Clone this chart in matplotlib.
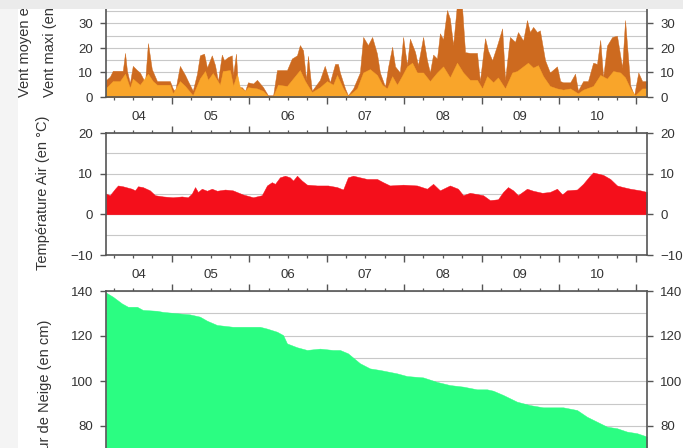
import numpy as np
import matplotlib
matplotlib.use("Agg")
from matplotlib import pyplot as plt
from matplotlib.patches import Rectangle
from matplotlib.ticker import MultipleLocator

plt.rcParams['font.family'] = ['Liberation Sans', 'DejaVu Sans']

# time axis: hours since day 04, 00:00
T_START, T_END = 3.6, 171.3
day_labels = ['04', '05', '06', '07', '08', '09', '10']

# wind (km/h): max and mean
wind_max_t = [3.6, 4.8, 5.7, 8.8, 9.5, 10.1, 11.0, 11.9, 13.2, 14.1,
              15.7, 16.6, 17.8, 19.4, 23.4, 24.3, 25.0, 26.5, 28.1, 29.0,
              30.5, 31.8, 32.7, 34.0, 34.9, 36.4, 37.4, 38.3, 39.5, 40.2,
              41.4, 42.6, 43.0, 43.9, 44.5, 45.7, 46.7, 47.6, 49.2, 50.4,
              52.3, 53.8, 55.4, 56.6, 59.7, 61.2, 62.8, 63.7, 64.7, 65.6,
              66.2, 67.4, 69.9, 71.4, 73.0, 74.6, 75.5, 76.1, 77.7, 78.6,
              80.2, 82.3, 83.3, 84.8, 86.1, 87.6, 88.5, 90.1, 91.0, 92.3,
              93.2, 94.7, 95.7, 96.9, 97.8, 99.4, 100.3, 101.9, 103.1, 104.0,
              105.0, 106.2, 107.1, 108.1, 109.3, 110.2, 111.2, 112.4, 113.9, 114.9,
              116.4, 118.6, 119.5, 121.1, 122.0, 123.3, 124.8, 126.4, 127.3, 128.8,
              130.4, 131.3, 132.9, 134.1, 135.0, 136.0, 137.2, 138.1, 139.7, 141.2,
              143.4, 144.4, 145.3, 147.5, 149.0, 149.9, 151.5, 153.0, 154.6, 155.8,
              156.8, 157.7, 158.9, 160.5, 162.0, 163.6, 164.5, 166.1, 167.3, 168.6,
              169.8, 171.3]
wind_max_v = [6.9, 8.3, 10.7, 10.7, 18, 10.7, 5.7, 12.7, 11, 10,
              6, 22, 11.4, 6.5, 6.5, 3.5, 2.3, 12.7, 9, 6.5,
              2.6, 9.5, 17, 17.7, 12, 17, 13, 6.5, 17.3, 15,
              16.3, 17, 9, 17.7, 4, 4, 2.5, 6, 5.5, 7,
              4, 0.7, 0.7, 11, 11, 15.7, 17, 21.2, 19, 7,
              16.8, 2.5, 7, 12.7, 6, 13.5, 13.5, 10, 3.5, 0.7,
              3.5, 10, 24.5, 21.2, 24.5, 17.7, 10, 4.2, 12, 20.5,
              12.5, 10, 24.5, 13, 23.8, 18.4, 13, 24.5, 15, 10,
              17.3, 15.7, 26, 23.5, 35.5, 32, 21.2, 38, 38, 18.3,
              18, 18, 6.5, 24, 19, 15, 21, 28, 7, 24.5,
              22.5, 26.5, 23, 31.4, 26.5, 28.6, 26.5, 27.2, 15, 10,
              12.5, 6.5, 6, 6, 9.5, 2.6, 6.5, 6.5, 14, 13.5,
              23.3, 8, 21, 24.5, 25, 12, 31.4, 4.8, 0.7, 10,
              6.5, 6.5]

wind_mean_t = [3.6, 5.7, 7.9, 9.5, 11.0, 11.9, 14.1, 16.6, 18.1, 19.4,
               23.4, 24.3, 26.5, 28.1, 30.5, 32.7, 34.3, 35.2, 36.7, 38.9,
               39.8, 42.0, 43.0, 44.2, 45.1, 46.7, 47.6, 50.4, 52.3, 53.8,
               55.4, 56.9, 59.7, 61.6, 63.7, 65.3, 67.4, 69.9, 72.1, 74.0,
               75.2, 77.1, 78.6, 81.4, 83.3, 85.4, 87.6, 89.2, 90.7, 92.3,
               93.8, 95.3, 96.9, 98.5, 100.0, 101.9, 104.0, 106.2, 108.1, 110.2,
               112.4, 114.3, 116.4, 118.6, 120.2, 121.7, 123.6, 125.1, 127.3, 129.5,
               131.0, 132.9, 134.4, 136.0, 137.5, 139.1, 141.2, 143.4, 145.3, 147.5,
               149.9, 151.5, 154.6, 156.8, 158.9, 160.8, 163.0, 164.5, 166.1, 167.6,
               169.8, 171.3]
wind_mean_v = [3.7, 6.5, 6.5, 9.5, 3.7, 7.5, 5, 9.5, 6.5, 5,
               5, 1.5, 6.5, 4.5, 0.7, 7.6, 10.6, 7, 9.8, 5,
               10.6, 11, 4.5, 9.5, 4, 2.5, 4, 3.5, 2.5, 0.4,
               0.4, 5, 4.5, 7.6, 11, 6.5, 2, 4, 6.5, 5,
               9, 3.5, 0.4, 3.5, 10, 11.4, 9, 5, 3.5, 8.5,
               5, 8.5, 12.5, 14, 10, 10, 6.5, 10, 12.5, 8,
               14, 10, 7, 7, 3.5, 8.5, 6, 8, 3.5, 10,
               10.6, 12.5, 14, 12, 13, 8.5, 4.5, 3.5, 3, 3.5,
               1.5, 3, 4.5, 9, 7.5, 10.6, 10, 8, 3.5, 0.7,
               3.5, 3.5]

# air temperature (deg C)
temp_t = [3.6, 4.8, 6.4, 7.3, 8.8, 11.6, 12.6, 13.5, 15.0, 17.2,
          18.8, 21.3, 24.3, 27.1, 29.0, 30.2, 31.2, 32.1, 33.3, 34.9,
          36.4, 38.0, 40.5, 42.9, 46.0, 49.2, 51.9, 53.5, 55.0, 56.0,
          57.5, 59.1, 60.6, 61.6, 62.8, 64.3, 65.9, 69.0, 72.4, 75.2,
          77.1, 78.6, 80.2, 82.3, 84.5, 87.6, 89.5, 91.6, 95.7, 100.0,
          103.1, 105.0, 107.1, 110.2, 112.7, 114.3, 116.4, 120.5, 122.6, 125.1,
          126.7, 128.2, 129.8, 131.3, 134.1, 136.0, 138.8, 141.2, 143.4, 145.0,
          146.5, 149.6, 151.5, 153.6, 154.6, 157.7, 159.9, 162.0, 163.9, 166.1,
          169.2, 171.3]
temp_v = [5.1, 4.7, 6.3, 7.1, 6.9, 6.3, 5.9, 6.9, 6.7, 5.9,
          4.7, 4.4, 4.2, 4.4, 4.2, 5.1, 6.7, 5.5, 6.3, 5.8,
          6.3, 5.8, 6.1, 5.9, 4.9, 4.2, 4.7, 7.1, 7.9, 7.5,
          9.1, 9.5, 9.1, 8.3, 9.5, 8.3, 7.3, 7.1, 7.1, 6.7,
          6.1, 9.1, 9.5, 9.1, 8.7, 8.7, 7.9, 7.1, 7.3, 7.1,
          6.3, 7.5, 5.9, 7.1, 6.3, 4.7, 5.3, 4.7, 3.5, 3.7,
          5.5, 6.7, 5.9, 4.7, 6.3, 5.8, 5.3, 5.5, 6.3, 4.9,
          5.9, 6.1, 7.5, 9.5, 10.3, 9.7, 8.7, 7.1, 6.7, 6.3,
          5.9, 5.5]

# snow depth (cm)
snow_t = [3.6, 5.7, 8.5, 10.4, 13.2, 15.0, 19.4, 21.3, 26.5, 29.6,
          32.7, 34.9, 38.0, 42.9, 51.3, 53.5, 56.6, 58.5, 59.7, 62.8,
          65.9, 69.9, 73.9, 76.1, 78.6, 82.3, 85.4, 88.5, 93.8, 96.9,
          101.9, 106.2, 110.2, 114.3, 118.6, 121.7, 123.6, 126.7, 131.0, 135.0,
          139.1, 145.3, 149.6, 152.7, 155.8, 158.9, 162.0, 165.1, 168.2, 171.3]
snow_v = [139.3, 137.5, 134.5, 133, 133, 131.6, 131.2, 130.7, 130, 129.6,
          128.6, 126.8, 124.9, 124.1, 124.1, 123.3, 121.9, 120.4, 116.7, 115,
          113.8, 114.4, 113.8, 113.8, 112.3, 107.9, 105.6, 104.9, 103.4, 102.2,
          101.6, 99.6, 98.2, 97.5, 96.3, 96.3, 95.7, 93.8, 90.8, 89.3,
          88.3, 88.3, 87.1, 84.1, 81.9, 79.7, 79, 77.5, 76.8, 75.3]

W, H = 683, 448
TXT = '#333333'
SPINE = '#555555'

fig = plt.figure(figsize=(W / 100, H / 100), dpi=100, facecolor='w')

def add_axes_px(x0, ytop, x1, ybot):
    return fig.add_axes([x0 / W, 1 - ybot / H, (x1 - x0) / W, (ybot - ytop) / H])

def style(ax, ylim, major, step):
    ax.set_xlim(T_START, T_END)
    ax.set_ylim(*ylim)
    ax.yaxis.set_major_locator(MultipleLocator(major))
    ax.yaxis.set_minor_locator(MultipleLocator(step))
    ax.grid(True, axis='y', which='both', color='#c8c8c8', lw=0.8)
    ax.set_axisbelow(True)
    ax.set_xticks(np.arange(24, 169, 24))
    ax.set_xticks(np.arange(6, 171, 6), minor=True)
    ax.tick_params(axis='x', which='major', direction='out', length=5, width=1,
                   color=SPINE, top=True, bottom=True, labelbottom=False)
    ax.tick_params(axis='x', which='minor', direction='out', length=2.5, width=0.9,
                   color=SPINE, top=True, bottom=True)
    ax.tick_params(axis='y', which='major', direction='out', length=4.5, width=1,
                   color=SPINE, left=True, right=True, labelleft=True, labelright=True,
                   labelsize=9.5, labelcolor=TXT, pad=5)
    ax.tick_params(axis='y', which='minor', length=0)
    for sp in ax.spines.values():
        sp.set_color(SPINE)
        sp.set_linewidth(1.2)

def day_names(ax):
    # each label centred on the visible part of its day
    for k, lab in enumerate(day_labels):
        a = max(24 * k, T_START)
        b = min(24 * (k + 1), T_END)
        ax.annotate(lab, xy=((a + b) / 2, 0), xycoords=('data', 'axes fraction'),
                    xytext=(0, -20), textcoords='offset pixels',
                    ha='center', va='center', fontsize=9.5, color=TXT)

# wind
ax_w = add_axes_px(106, -1, 647, 97)
ax_w.fill_between(wind_max_t, wind_max_v, 0, color='#cd6a1f', lw=0.3)
ax_w.fill_between(wind_mean_t, wind_mean_v, 0, color='#f9a52a', lw=0.3)
style(ax_w, (0, 40), 10, 5)
day_names(ax_w)

# temperature
ax_t = add_axes_px(106, 133, 647, 255)
ax_t.fill_between(temp_t, temp_v, 0, color='#f40f1b', lw=0.3)
style(ax_t, (-10, 20), 10, 5)
day_names(ax_t)

# snow depth
ax_s = add_axes_px(106, 291, 647, 516)
ax_s.fill_between(snow_t, snow_v, 0, color='#2bfd82', lw=0.3)
style(ax_s, (40, 140), 20, 10)

YL = 10.5
fig.text(25 / W, 1 - 97 / H, 'Vent moyen et', rotation=90, ha='center', va='bottom',
         fontsize=YL, color=TXT)
fig.text(50 / W, 1 - 97 / H, 'Vent maxi (en km/h)', rotation=90, ha='center', va='bottom',
         fontsize=YL, color=TXT)
fig.text(43 / W, 1 - 193 / H, 'Température Air (en °C)', rotation=90, ha='center',
         va='center', fontsize=YL, color=TXT)
fig.text(45 / W, 1 - 320 / H, 'Hauteur de Neige (en cm)', rotation=90, ha='center',
         va='top', fontsize=YL, color=TXT)

# screenshot margins
fig.add_artist(Rectangle((0, 0), 18 / W, 1, transform=fig.transFigure,
                         facecolor='#f4f4f4', edgecolor='none', zorder=-1))
fig.add_artist(Rectangle((0, 1 - 9 / H), 1, 9 / H, transform=fig.transFigure,
                         facecolor='#ebebeb', edgecolor='none', zorder=10))

fig.savefig('out.png', dpi=100)
